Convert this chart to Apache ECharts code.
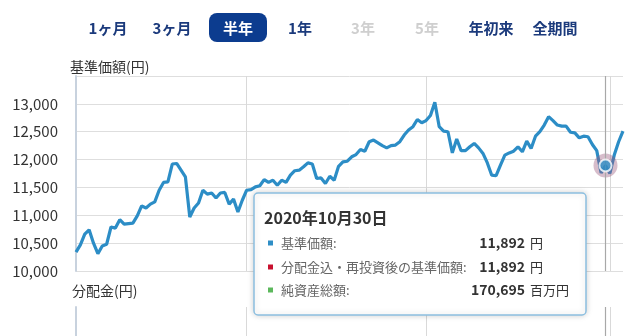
<!DOCTYPE html>
<html><head><meta charset="utf-8">
<script src="https://cdn.jsdelivr.net/npm/echarts@6/dist/echarts.min.js"></script>
<style>html,body{margin:0;padding:0;background:#fff}#c{width:640px;height:336px}</style>
</head><body><div id="c"></div>
<script>
const dates = [
'5/7','5/8','5/11','5/12','5/13','5/14','5/15','5/18','5/19','5/20','5/21','5/22','5/25','5/26','5/27','5/28','5/29',
'6/1','6/2','6/3','6/4','6/5','6/8','6/9','6/10','6/11','6/12','6/15','6/16','6/17','6/18','6/19','6/22','6/23','6/24','6/25','6/26','6/29','6/30',
'7/1','7/2','7/3','7/6','7/7','7/8','7/9','7/10','7/13','7/14','7/15','7/16','7/17','7/20','7/21','7/22','7/27','7/28','7/29','7/30','7/31',
'8/3','8/4','8/5','8/6','8/7','8/11','8/12','8/13','8/14','8/17','8/18','8/19','8/20','8/21','8/24','8/25','8/26','8/27','8/28','8/31',
'9/1','9/2','9/3','9/4','9/7','9/8','9/9','9/10','9/11','9/14','9/15','9/16','9/17','9/18','9/23','9/24','9/25','9/28','9/29','9/30',
'10/1','10/2','10/5','10/6','10/7','10/8','10/9','10/12','10/13','10/14','10/15','10/16','10/19','10/20','10/21','10/22','10/23','10/26','10/27','10/28','10/29','10/30',
'11/2','11/4','11/5','11/6'];
const navValues = [
10340,10470,10660,10740,10500,10310,10450,10480,10790,10770,
10920,10840,10850,10860,10990,11170,11130,11200,11240,11450,
11590,11600,11920,11930,11810,11690,10970,11130,11220,11450,
11380,11400,11310,11400,11410,11200,11290,11060,11270,11450,
11460,11510,11530,11640,11590,11630,11540,11630,11590,11720,
11800,11810,11870,11940,11920,11660,11670,11570,11700,11630,
11880,11960,11970,12050,12090,12180,12150,12320,12350,12300,
12250,12210,12250,12260,12320,12440,12530,12590,12720,12660,
12700,12790,13030,12590,12510,12500,12120,12370,12160,12160,
12230,12290,12210,12110,11940,11720,11710,11900,12080,12120,
12150,12230,12140,12330,12200,12420,12500,12620,12770,12700,
12620,12600,12600,12490,12480,12390,12420,12410,12270,12160,
11760,11892,11750,12080,12320,12510];
const monthStartIdx = ['7/1','9/1','11/2'];
const selectedDate = '10/30';
const periodTabs = ['1ヶ月','3ヶ月','半年','1年','3年','5年','年初来','全期間'];
const tabState = ['on','on','sel','on','off','off','on','on'];
const tipTitle = '2020年10月30日';
const tipLabels = ['基準価額:','分配金込・再投資後の基準価額:','純資産総額:'];
const tipValues = ['11,892','11,892','170,695'];
const tipUnits = ['円','円','百万円'];
const tipColors = ['#2f8ec6','#c8102e','#5cb85c'];

const FONT = '"Noto Sans CJK JP", sans-serif';
const selIdx = dates.indexOf(selectedDate);
const splitIdx = monthStartIdx.map(d => dates.indexOf(d));

const graphics = [];
const tabX = [108,172,238,300,363,427,491,555];
periodTabs.forEach((t,i)=>{
  if (tabState[i]==='sel') {
    graphics.push({type:'rect', shape:{x:tabX[i]-29,y:13,width:58,height:29,r:8}, style:{fill:'#0c3c8f'}});
  }
  graphics.push({type:'text', style:{text:t, x:tabX[i], y:28, align:'center', verticalAlign:'middle', textAlign:'center', textVerticalAlign:'middle',
    font:'bold 15px '+FONT, fill: tabState[i]==='sel'?'#ffffff':(tabState[i]==='off'?'#cfcfcf':'#1b3a7c')}});
});
graphics.push({type:'text', style:{text:'基準価額(円)', x:70, y:67, verticalAlign:'middle', textVerticalAlign:'middle', font:'14px '+FONT, fill:'#333'}});
graphics.push({type:'text', style:{text:'分配金(円)', x:72, y:291, verticalAlign:'middle', textVerticalAlign:'middle', font:'14px '+FONT, fill:'#333'}});
// tooltip box
const Z = 100;
graphics.push({type:'rect', z:Z, shape:{x:254,y:193,width:332,height:122,r:4}, style:{fill:'#ffffff', stroke:'#8cbfe0', lineWidth:1.5, shadowBlur:6, shadowColor:'rgba(0,0,0,0.18)'}});
graphics.push({type:'text', z:Z+1, style:{text:tipTitle, x:264, y:218, verticalAlign:'middle', textVerticalAlign:'middle', font:'bold 16px '+FONT, fill:'#333'}});
const rowY = [243,267,290];
tipLabels.forEach((l,i)=>{
  graphics.push({type:'rect', z:Z+1, shape:{x:268,y:rowY[i]-2.5,width:5,height:5}, style:{fill:tipColors[i]}});
  graphics.push({type:'text', z:Z+1, style:{text:l, x:281, y:rowY[i], verticalAlign:'middle', textVerticalAlign:'middle', font:'13px '+FONT, fill:'#666'}});
  graphics.push({type:'text', z:Z+1, style:{text:tipValues[i], x:525, y:rowY[i], align:'right', textAlign:'right', verticalAlign:'middle', textVerticalAlign:'middle', font:'bold 14px '+FONT, fill:'#333'}});
  graphics.push({type:'text', z:Z+1, style:{text:tipUnits[i], x:530, y:rowY[i], verticalAlign:'middle', textVerticalAlign:'middle', font:'13px '+FONT, fill:'#333'}});
});

const splitLine = {show:true, interval:(idx)=>splitIdx.indexOf(idx)>=0, lineStyle:{color:'#d9d9d9', width:1}};
const chart = echarts.init(document.getElementById('c'), null, {renderer:'canvas'});
chart.setOption({
  animation:false,
  textStyle:{fontFamily:FONT},
  graphic: graphics,
  grid:[{left:76, right:17, top:76, bottom:65},{left:76, right:17, top:307, height:120}],
  xAxis:[
    {type:'category', gridIndex:0, data:dates, boundaryGap:false, axisLine:{show:false}, axisTick:{show:false}, axisLabel:{show:false}, splitLine},
    {type:'category', gridIndex:1, data:dates, boundaryGap:false, axisLine:{show:false}, axisTick:{show:false}, axisLabel:{show:false}, splitLine}
  ],
  yAxis:[
    {type:'value', gridIndex:0, min:10000, max:13500, interval:500,
      axisLine:{show:true, lineStyle:{color:'#c8d2de', width:2}}, axisTick:{show:false},
      axisLabel:{margin:18, color:'#333', fontSize:15, fontFamily:FONT,
        formatter:v=> v===13500 ? '' : v.toLocaleString('en-US')},
      splitLine:{show:true, lineStyle:{color:'#dedede', width:1}}},
    {type:'value', gridIndex:1, min:0, max:100,
      axisLine:{show:true, lineStyle:{color:'#c8d2de', width:2}}, axisTick:{show:false},
      axisLabel:{show:false}, splitLine:{show:false}}
  ],
  series:[
    {type:'line', xAxisIndex:0, yAxisIndex:0, data:navValues, showSymbol:false, symbol:'none',
      lineStyle:{color:'#2c8dc6', width:3.2}, z:3,
      markLine:{silent:true, symbol:'none', label:{show:false}, lineStyle:{color:'#a8a8a8', width:1.2, type:'solid'}, data:[{xAxis:selIdx}]}},
    {type:'scatter', xAxisIndex:0, yAxisIndex:0, data:[[selIdx, navValues[selIdx]]], symbolSize:24,
      itemStyle:{color:'rgba(155,90,125,0.5)'}, z:4},
    {type:'scatter', xAxisIndex:0, yAxisIndex:0, data:[[selIdx, navValues[selIdx]]], symbolSize:12,
      itemStyle:{color:'#2c8dc6', borderColor:'#ffffff', borderWidth:2}, z:5},
    {type:'line', xAxisIndex:1, yAxisIndex:1, data:[], 
      markLine:{silent:true, symbol:'none', label:{show:false}, lineStyle:{color:'#a8a8a8', width:1.2, type:'solid'}, data:[{xAxis:selIdx}]}}
  ]
});
</script></body></html>
